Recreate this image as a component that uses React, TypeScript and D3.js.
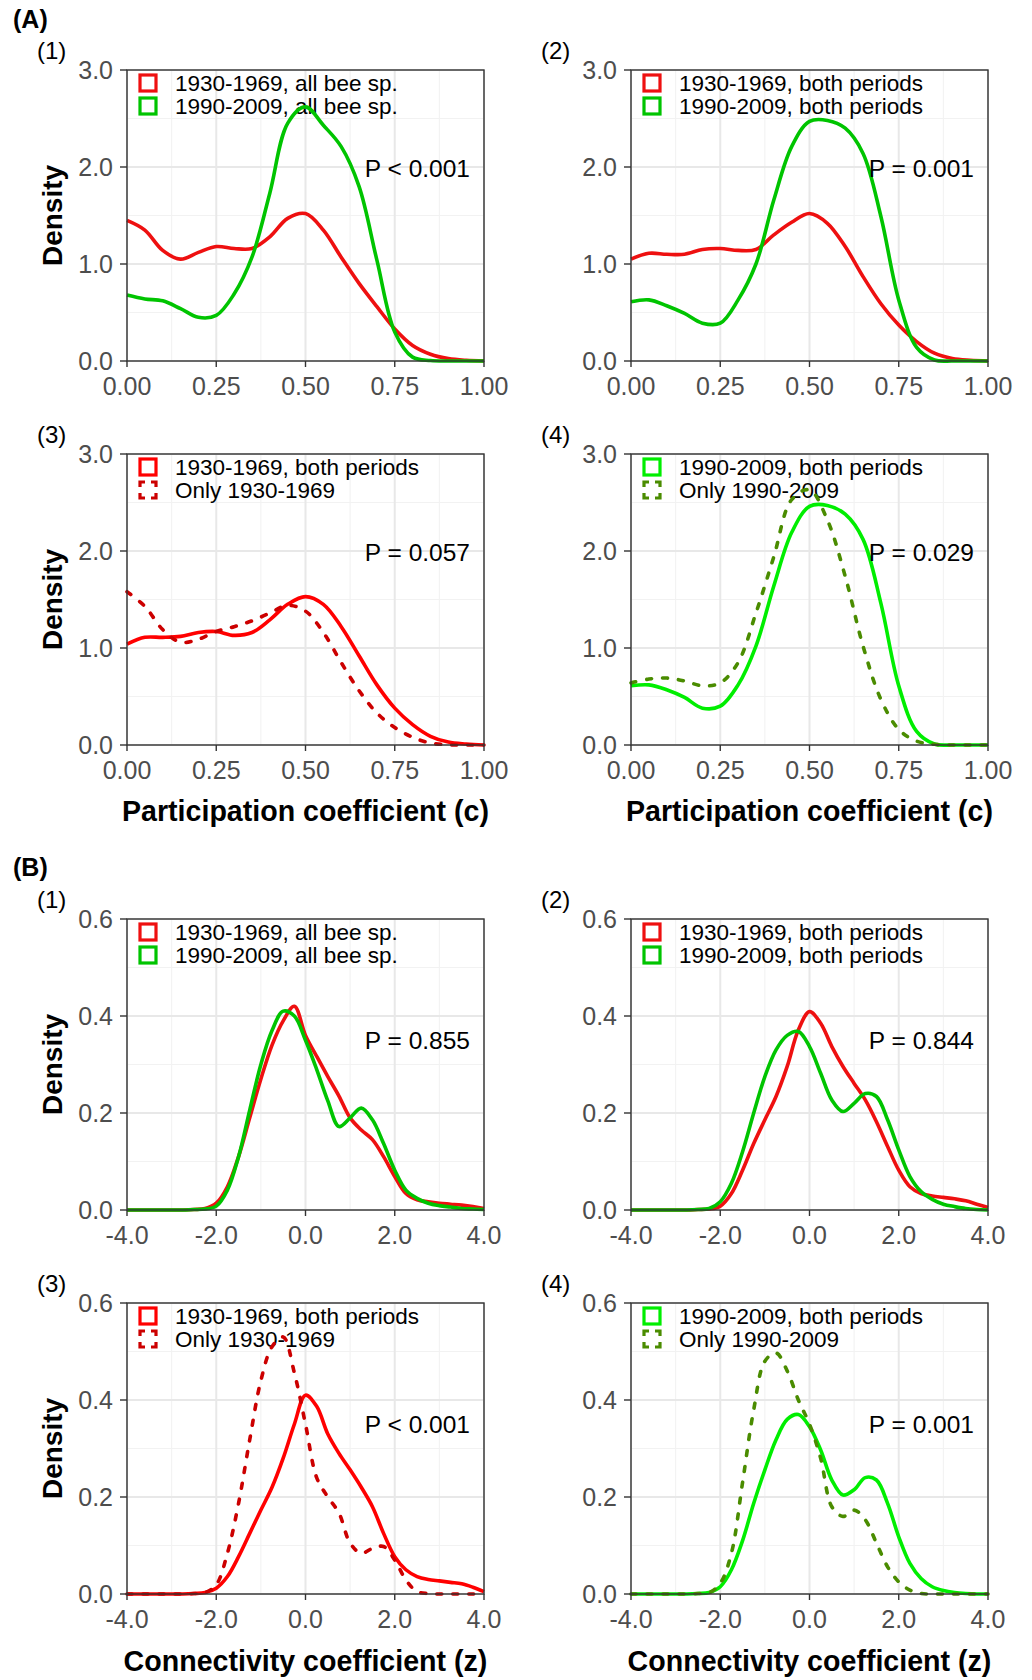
import React from 'react';
import * as d3 from 'd3';

// x grids the curves were read on
const PART_X = [0, 0.05, 0.1, 0.15, 0.2, 0.25, 0.3, 0.35, 0.4, 0.45, 0.5, 0.55, 0.6, 0.65, 0.7, 0.75, 0.8, 0.85, 0.9, 0.95, 1];
const CONN_X = [-4, -3.75, -3.5, -3.25, -3, -2.75, -2.5, -2.25, -2, -1.75, -1.5, -1.25, -1, -0.75, -0.5, -0.25,
  0, 0.25, 0.5, 0.75, 1, 1.25, 1.5, 1.75, 2, 2.25, 2.5, 2.75, 3, 3.25, 3.5, 3.75, 4];

// (A) participation coefficient densities
const A1_OLD_ALL = [1.45, 1.35, 1.14, 1.05, 1.12, 1.18, 1.16, 1.16, 1.28, 1.47, 1.52, 1.35, 1.07, 0.8, 0.56, 0.33, 0.16, 0.07, 0.025, 0.007, 0];
const A1_NEW_ALL = [0.68, 0.64, 0.62, 0.54, 0.45, 0.47, 0.69, 1.07, 1.73, 2.45, 2.62, 2.43, 2.21, 1.8, 1.04, 0.3, 0.04, 0.005, 0, 0, 0];
const A2_OLD_BOTH = [1.05, 1.11, 1.1, 1.1, 1.15, 1.16, 1.14, 1.15, 1.3, 1.43, 1.52, 1.42, 1.18, 0.87, 0.59, 0.37, 0.2, 0.08, 0.025, 0.007, 0];
const A2_NEW_BOTH = [0.61, 0.63, 0.57, 0.49, 0.39, 0.39, 0.63, 1.0, 1.66, 2.21, 2.47, 2.48, 2.4, 2.14, 1.49, 0.63, 0.14, 0.01, 0, 0, 0];
const A3_OLD_BOTH = [1.04, 1.11, 1.11, 1.12, 1.16, 1.17, 1.13, 1.16, 1.29, 1.45, 1.53, 1.45, 1.22, 0.92, 0.62, 0.38, 0.21, 0.09, 0.03, 0.01, 0];
const A3_OLD_ONLY = [1.58, 1.43, 1.19, 1.06, 1.09, 1.17, 1.22, 1.28, 1.36, 1.44, 1.38, 1.16, 0.85, 0.56, 0.33, 0.18, 0.08, 0.02, 0.003, 0, 0];
const A4_NEW_BOTH = [0.61, 0.62, 0.57, 0.49, 0.38, 0.4, 0.62, 1.02, 1.64, 2.19, 2.46, 2.47, 2.38, 2.12, 1.46, 0.61, 0.14, 0.01, 0, 0, 0];
const A4_NEW_ONLY = [0.64, 0.68, 0.69, 0.66, 0.61, 0.64, 0.85, 1.36, 1.94, 2.53, 2.63, 2.32, 1.74, 1.02, 0.47, 0.16, 0.04, 0.007, 0, 0, 0];

// (B) connectivity coefficient densities
const B1_OLD_ALL = [0, 0, 0, 0, 0, 0, 0.001, 0.003, 0.014, 0.048, 0.11, 0.19, 0.27, 0.34, 0.39, 0.42,
  0.36, 0.317, 0.275, 0.235, 0.19, 0.165, 0.145, 0.11, 0.069, 0.034, 0.021, 0.017, 0.014, 0.012, 0.01, 0.007, 0.003];
const B1_NEW_ALL = [0, 0, 0, 0, 0, 0, 0.001, 0.002, 0.008, 0.041, 0.11, 0.206, 0.3, 0.37, 0.41, 0.4,
  0.35, 0.29, 0.225, 0.172, 0.19, 0.21, 0.186, 0.137, 0.082, 0.041, 0.024, 0.014, 0.009, 0.006, 0.003, 0.002, 0.001];
const B2_OLD_BOTH = [0, 0, 0, 0, 0, 0, 0.001, 0.002, 0.008, 0.034, 0.082, 0.137, 0.186, 0.234, 0.296, 0.371,
  0.409, 0.385, 0.337, 0.296, 0.261, 0.227, 0.182, 0.131, 0.082, 0.048, 0.034, 0.029, 0.026, 0.023, 0.019, 0.012, 0.005];
const B2_NEW_BOTH = [0, 0, 0, 0, 0, 0, 0.001, 0.003, 0.017, 0.055, 0.12, 0.2, 0.275, 0.33, 0.36, 0.368,
  0.337, 0.282, 0.227, 0.203, 0.22, 0.24, 0.234, 0.186, 0.124, 0.069, 0.038, 0.022, 0.012, 0.007, 0.003, 0.001, 0];
const B3_OLD_BOTH = [0, 0, 0, 0, 0, 0, 0.001, 0.003, 0.012, 0.036, 0.077, 0.125, 0.173, 0.22, 0.28, 0.35,
  0.41, 0.387, 0.33, 0.29, 0.256, 0.22, 0.18, 0.125, 0.077, 0.05, 0.036, 0.03, 0.027, 0.024, 0.021, 0.014, 0.005];
const B3_OLD_ONLY = [0, 0, 0, 0, 0, 0, 0.001, 0.003, 0.019, 0.084, 0.187, 0.318, 0.44, 0.51, 0.53, 0.456,
  0.35, 0.24, 0.2, 0.167, 0.105, 0.084, 0.094, 0.098, 0.07, 0.029, 0.005, 0.001, 0, 0, 0, 0, 0];
const B4_NEW_BOTH = [0, 0, 0, 0, 0, 0, 0.001, 0.003, 0.015, 0.05, 0.11, 0.187, 0.256, 0.318, 0.36, 0.37,
  0.345, 0.297, 0.235, 0.204, 0.215, 0.24, 0.235, 0.187, 0.118, 0.063, 0.032, 0.015, 0.007, 0.003, 0.001, 0, 0];
const B4_NEW_ONLY = [0, 0, 0, 0, 0, 0, 0.001, 0.003, 0.022, 0.084, 0.23, 0.38, 0.48, 0.497, 0.46, 0.4,
  0.35, 0.28, 0.18, 0.16, 0.173, 0.153, 0.105, 0.056, 0.025, 0.008, 0.001, 0, 0, 0, 0, 0, 0];

const PART_TICKS = [0, 0.25, 0.5, 0.75, 1];
const PART_MINOR = [0.125, 0.375, 0.625, 0.875];
const PART_Y_TICKS = [0, 1, 2, 3];
const PART_Y_MINOR = [0.5, 1.5, 2.5];
const CONN_TICKS = [-4, -2, 0, 2, 4];
const CONN_MINOR = [-3, -1, 1, 3];
const CONN_Y_TICKS = [0, 0.2, 0.4, 0.6];
const CONN_Y_MINOR = [0.1, 0.3, 0.5];

const P_VALUES = ['P < 0.001', 'P = 0.001', 'P = 0.057', 'P = 0.029', 'P = 0.855', 'P = 0.844', 'P < 0.001', 'P = 0.001'];

const RED = '#ee1010';
const GREEN = '#00c400';
const RED_BRIGHT = '#ff0000';
const RED_DARK = '#cc0000';
const GREEN_BRIGHT = '#00ee00';
const GREEN_DARK = '#4a8c00';

const FONT = '"Liberation Sans", Arial, Helvetica, sans-serif';

type Series = { values: number[]; color: string; dashed?: boolean; label: string };

type PanelProps = {
  left: number;
  top: number;
  xs: number[];
  xDomain: [number, number];
  yDomain: [number, number];
  xTicks: number[];
  xMinor: number[];
  yTicks: number[];
  yMinor: number[];
  xFmt: (v: number) => string;
  yFmt: (v: number) => string;
  series: Series[];
  pText: string;
  pOffset: number;
  tag: string;
  showYTitle: boolean;
};

const W = 357;
const H = 291;

const Panel = (p: PanelProps) => {
  const x = d3.scaleLinear().domain(p.xDomain).range([p.left, p.left + W]);
  const y = d3.scaleLinear().domain(p.yDomain).range([p.top + H, p.top]);
  const line = d3.line<number>()
    .x((_, i) => x(p.xs[i]))
    .y((d) => Math.min(y(d), p.top + H))
    .curve(d3.curveCatmullRom.alpha(0.5));

  return (
    <g>
      <rect x={p.left} y={p.top} width={W} height={H} fill="#fff" />
      {p.xMinor.map((v) => (
        <line key={'xm' + v} x1={x(v)} x2={x(v)} y1={p.top} y2={p.top + H} stroke="#f2f2f2" strokeWidth={1.1} />
      ))}
      {p.yMinor.map((v) => (
        <line key={'ym' + v} x1={p.left} x2={p.left + W} y1={y(v)} y2={y(v)} stroke="#f2f2f2" strokeWidth={1.1} />
      ))}
      {p.xTicks.map((v) => (
        <line key={'xg' + v} x1={x(v)} x2={x(v)} y1={p.top} y2={p.top + H} stroke="#e8e8e8" strokeWidth={2} />
      ))}
      {p.yTicks.map((v) => (
        <line key={'yg' + v} x1={p.left} x2={p.left + W} y1={y(v)} y2={y(v)} stroke="#e8e8e8" strokeWidth={2} />
      ))}

      {/* legend */}
      {p.series.map((s, i) => {
        const ky = p.top + 5 + i * 23;
        return (
          <g key={'lg' + i}>
            <rect
              x={p.left + 13}
              y={ky}
              width={16}
              height={16}
              fill="none"
              stroke={s.color}
              strokeWidth={3.2}
              strokeDasharray={s.dashed ? '10 6' : undefined}
              strokeDashoffset={s.dashed ? 5 : undefined}
            />
            <text x={p.left + 48} y={ky + 16} fontSize={22.5} fontFamily={FONT} fill="#000">{s.label}</text>
          </g>
        );
      })}

      {p.series.map((s, i) => (
        <path
          key={'s' + i}
          d={line(s.values) || ''}
          fill="none"
          stroke={s.color}
          strokeWidth={3.6}
          strokeLinejoin="round"
          strokeLinecap={s.dashed ? 'round' : 'butt'}
          strokeDasharray={s.dashed ? '5 11' : undefined}
        />
      ))}

      <rect x={p.left} y={p.top} width={W} height={H} fill="none" stroke="#333" strokeWidth={1.4} />

      {p.xTicks.map((v) => (
        <g key={'xt' + v}>
          <line x1={x(v)} x2={x(v)} y1={p.top + H} y2={p.top + H + 6} stroke="#333" strokeWidth={1.4} />
          <text x={x(v)} y={p.top + H + 34} textAnchor="middle" fontSize={25} fontFamily={FONT} fill="#4d4d4d">{p.xFmt(v)}</text>
        </g>
      ))}
      {p.yTicks.map((v) => (
        <g key={'yt' + v}>
          <line x1={p.left - 7} x2={p.left} y1={y(v)} y2={y(v)} stroke="#333" strokeWidth={1.4} />
          <text x={p.left - 14} y={y(v) + 9} textAnchor="end" fontSize={25} fontFamily={FONT} fill="#4d4d4d">{p.yFmt(v)}</text>
        </g>
      ))}

      <text x={p.left + W - 14} y={p.top + p.pOffset} textAnchor="end" fontSize={24.5} fontFamily={FONT} fill="#000">{p.pText}</text>
      <text x={p.left - 90} y={p.top - 11} fontSize={24} fontFamily={FONT} fill="#000">{p.tag}</text>

      {p.showYTitle && (
        <text
          transform={`translate(${p.left - 65},${p.top + H / 2}) rotate(-90)`}
          textAnchor="middle"
          fontSize={28}
          fontWeight="bold"
          fontFamily={FONT}
          fill="#000"
        >
          Density
        </text>
      )}
    </g>
  );
};

const App = () => {
  const cols = [127, 631];
  const fmtPart = (v: number) => v.toFixed(2);
  const fmt1 = (v: number) => v.toFixed(1);

  const partCommon = {
    xs: PART_X,
    xDomain: [0, 1] as [number, number],
    yDomain: [0, 3] as [number, number],
    xTicks: PART_TICKS,
    xMinor: PART_MINOR,
    yTicks: PART_Y_TICKS,
    yMinor: PART_Y_MINOR,
    xFmt: fmtPart,
    yFmt: fmt1,
    pOffset: 107,
  };
  const connCommon = {
    xs: CONN_X,
    xDomain: [-4, 4] as [number, number],
    yDomain: [0, 0.6] as [number, number],
    xTicks: CONN_TICKS,
    xMinor: CONN_MINOR,
    yTicks: CONN_Y_TICKS,
    yMinor: CONN_Y_MINOR,
    xFmt: fmt1,
    yFmt: fmt1,
    pOffset: 130,
  };

  return (
    <svg width={1032} height={1680} style={{ position: 'absolute', left: 0, top: 0, background: '#fff' }}>
      <rect width={1032} height={1680} fill="#fff" />
      <text x={13} y={28} fontSize={25} fontWeight="bold" fontFamily={FONT}>(A)</text>
      <text x={13} y={876} fontSize={25} fontWeight="bold" fontFamily={FONT}>(B)</text>

      <Panel {...partCommon} left={cols[0]} top={70} tag="(1)" showYTitle pText={P_VALUES[0]}
        series={[
          { values: A1_OLD_ALL, color: RED, label: '1930-1969, all bee sp.' },
          { values: A1_NEW_ALL, color: GREEN, label: '1990-2009, all bee sp.' },
        ]} />
      <Panel {...partCommon} left={cols[1]} top={70} tag="(2)" showYTitle={false} pText={P_VALUES[1]}
        series={[
          { values: A2_OLD_BOTH, color: RED, label: '1930-1969, both periods' },
          { values: A2_NEW_BOTH, color: GREEN, label: '1990-2009, both periods' },
        ]} />
      <Panel {...partCommon} left={cols[0]} top={454} tag="(3)" showYTitle pText={P_VALUES[2]}
        series={[
          { values: A3_OLD_BOTH, color: RED_BRIGHT, label: '1930-1969, both periods' },
          { values: A3_OLD_ONLY, color: RED_DARK, dashed: true, label: 'Only 1930-1969' },
        ]} />
      <Panel {...partCommon} left={cols[1]} top={454} tag="(4)" showYTitle={false} pText={P_VALUES[3]}
        series={[
          { values: A4_NEW_BOTH, color: GREEN_BRIGHT, label: '1990-2009, both periods' },
          { values: A4_NEW_ONLY, color: GREEN_DARK, dashed: true, label: 'Only 1990-2009' },
        ]} />

      <Panel {...connCommon} left={cols[0]} top={919} tag="(1)" showYTitle pText={P_VALUES[4]}
        series={[
          { values: B1_OLD_ALL, color: RED, label: '1930-1969, all bee sp.' },
          { values: B1_NEW_ALL, color: GREEN, label: '1990-2009, all bee sp.' },
        ]} />
      <Panel {...connCommon} left={cols[1]} top={919} tag="(2)" showYTitle={false} pText={P_VALUES[5]}
        series={[
          { values: B2_OLD_BOTH, color: RED, label: '1930-1969, both periods' },
          { values: B2_NEW_BOTH, color: GREEN, label: '1990-2009, both periods' },
        ]} />
      <Panel {...connCommon} left={cols[0]} top={1303} tag="(3)" showYTitle pText={P_VALUES[6]}
        series={[
          { values: B3_OLD_BOTH, color: RED_BRIGHT, label: '1930-1969, both periods' },
          { values: B3_OLD_ONLY, color: RED_DARK, dashed: true, label: 'Only 1930-1969' },
        ]} />
      <Panel {...connCommon} left={cols[1]} top={1303} tag="(4)" showYTitle={false} pText={P_VALUES[7]}
        series={[
          { values: B4_NEW_BOTH, color: GREEN_BRIGHT, label: '1990-2009, both periods' },
          { values: B4_NEW_ONLY, color: GREEN_DARK, dashed: true, label: 'Only 1990-2009' },
        ]} />

      {cols.map((c) => (
        <g key={'xt' + c}>
          <text x={c + W / 2} y={821} textAnchor="middle" fontSize={28.6} fontWeight="bold" fontFamily={FONT}>
            Participation coefficient (c)
          </text>
          <text x={c + W / 2} y={1671} textAnchor="middle" fontSize={28.6} fontWeight="bold" fontFamily={FONT}>
            Connectivity coefficient (z)
          </text>
        </g>
      ))}
    </svg>
  );
};

export default App;
